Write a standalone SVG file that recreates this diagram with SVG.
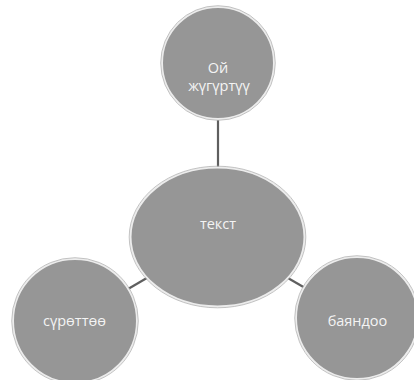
<svg xmlns="http://www.w3.org/2000/svg" width="414" height="380" viewBox="0 0 414 380">
<style>
.node{fill:#969696;stroke:#ececec;stroke-width:2}
.rim{fill:none;stroke:#b4b4b4;stroke-width:0.8}
.lbl{font-family:"Open Sans","Liberation Sans",sans-serif;font-size:14.5px;fill:#f4f4f4;text-anchor:middle}
.conn{stroke:#5f5f5f;stroke-width:2.2;fill:none}
</style>
<rect width="414" height="380" fill="#ffffff"/>
<g id="connectors">
<line class="conn" x1="218" y1="110" x2="218" y2="175"/>
<line class="conn" x1="75" y1="320" x2="217" y2="237"/>
<line class="conn" x1="357" y1="318" x2="217" y2="237"/>
</g>
<g id="node-top">
<circle class="node" cx="218" cy="63" r="56"/>
<circle class="rim" cx="218" cy="63" r="57.3"/>
<text class="lbl" x="218" y="73">Ой</text>
<text class="lbl" x="219" y="91">жүгүртүү</text>
</g>
<g id="node-center">
<ellipse class="node" cx="217.5" cy="237" rx="87" ry="69.5"/>
<ellipse class="rim" cx="217.5" cy="237" rx="88.3" ry="70.8"/>
<text class="lbl" x="218" y="229">текст</text>
</g>
<g id="node-left">
<circle class="node" cx="75" cy="321" r="62"/>
<circle class="rim" cx="75" cy="321" r="63.3"/>
<text class="lbl" x="74.5" y="325.5">сүрөттөө</text>
</g>
<g id="node-right">
<circle class="node" cx="357" cy="318" r="61"/>
<circle class="rim" cx="357" cy="318" r="62.3"/>
<text class="lbl" x="357.5" y="325.5">баяндоо</text>
</g>
</svg>
